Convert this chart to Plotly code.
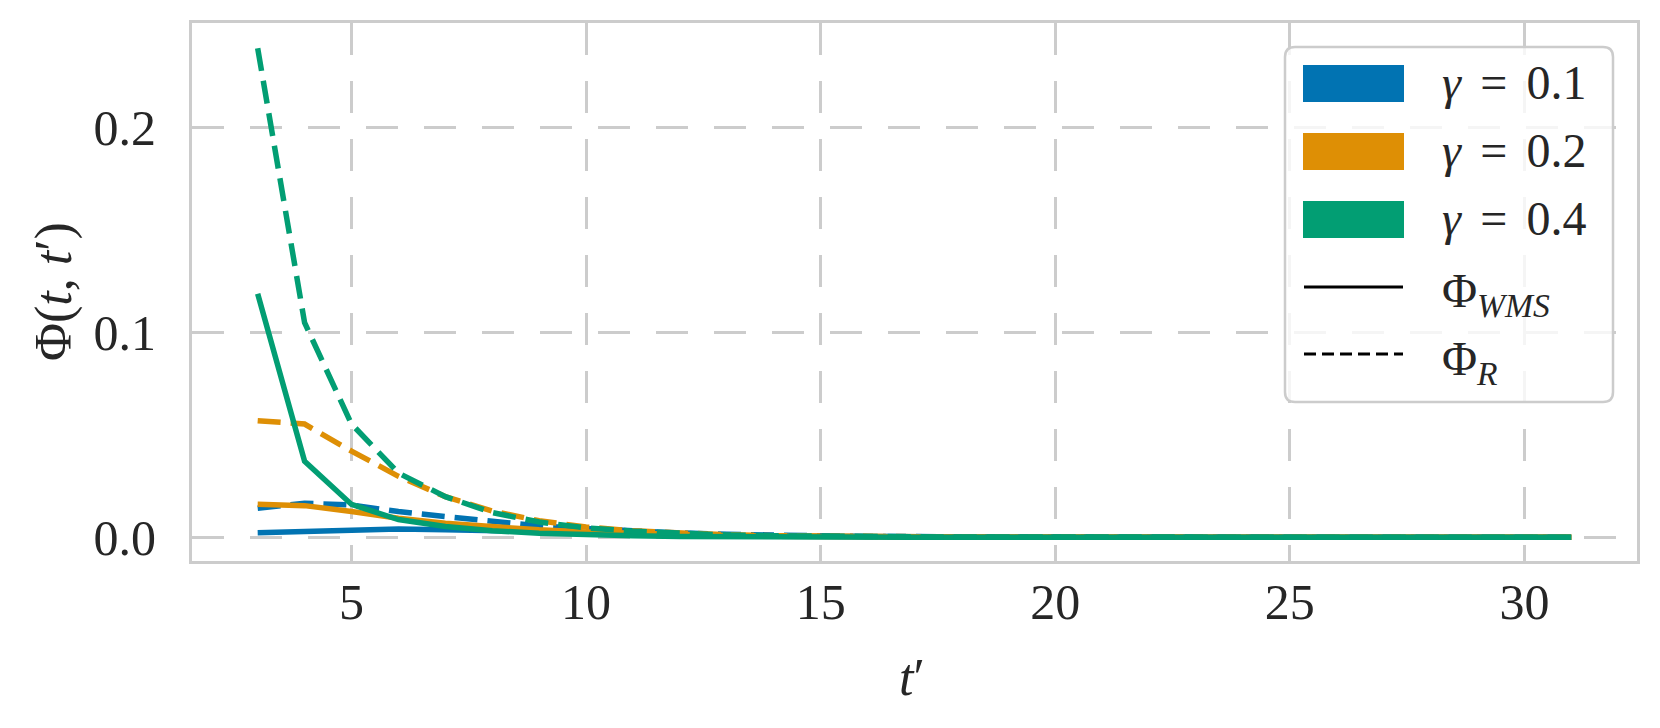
import plotly.graph_objects as go

# t' values on the x axis
t_prime = list(range(3, 32))

# Phi_WMS and Phi_R for each gamma
wms_01 = [0.0022, 0.0030, 0.0038, 0.0040, 0.0037, 0.0031, 0.0025, 0.0019, 0.0014, 0.0010,
          0.0007, 0.0005, 0.0003, 0.0002, 0.0001, 0.0001, 0.0001, 0.0, 0.0, 0.0,
          0.0, 0.0, 0.0, 0.0, 0.0, 0.0, 0.0, 0.0, 0.0]
r_01 = [0.0141, 0.0166, 0.0157, 0.0125, 0.0101, 0.0076, 0.0055, 0.0042, 0.0030, 0.0021,
        0.0014, 0.0009, 0.0006, 0.0004, 0.0003, 0.0002, 0.0001, 0.0001, 0.0, 0.0,
        0.0, 0.0, 0.0, 0.0, 0.0, 0.0, 0.0, 0.0, 0.0]
wms_02 = [0.0161, 0.0154, 0.0125, 0.0093, 0.0068, 0.0049, 0.0036, 0.0026, 0.0018, 0.0012,
          0.0008, 0.0005, 0.0003, 0.0002, 0.0001, 0.0001, 0.0, 0.0, 0.0, 0.0,
          0.0, 0.0, 0.0, 0.0, 0.0, 0.0, 0.0, 0.0, 0.0]
r_02 = [0.0568, 0.0552, 0.0420, 0.0297, 0.0198, 0.0128, 0.0080, 0.0050, 0.0031, 0.0019,
        0.0012, 0.0007, 0.0004, 0.0003, 0.0002, 0.0001, 0.0001, 0.0, 0.0, 0.0,
        0.0, 0.0, 0.0, 0.0, 0.0, 0.0, 0.0, 0.0, 0.0]
wms_04 = [0.1187, 0.0371, 0.0160, 0.0086, 0.0052, 0.0032, 0.0019, 0.0011, 0.0007, 0.0004,
          0.0002, 0.0001, 0.0001, 0.0, 0.0, 0.0, 0.0, 0.0, 0.0, 0.0,
          0.0, 0.0, 0.0, 0.0, 0.0, 0.0, 0.0, 0.0, 0.0]
r_04 = [0.2385, 0.1046, 0.0552, 0.0313, 0.0198, 0.0120, 0.0074, 0.0046, 0.0029, 0.0018,
        0.0011, 0.0007, 0.0004, 0.0003, 0.0002, 0.0001, 0.0001, 0.0, 0.0, 0.0,
        0.0, 0.0, 0.0, 0.0, 0.0, 0.0, 0.0, 0.0, 0.0]

gammas = ["0.1", "0.2", "0.4"]
colors = ["#0173b2", "#de8f05", "#029e73"]
series = [(wms_01, r_01), (wms_02, r_02), (wms_04, r_04)]

# page is 1660x728 but the body has an 8px margin, so the figure is a bit smaller
OFF = 8
W, H = 1660 - OFF, 728 - OFF
ML, MR, MT, MB = 192 - OFF, 23, 23 - OFF, 167
PW, PH = W - ML - MR, H - MT - MB
FONT = "Liberation Serif"
TXT = "#262626"


def px(x):
    # page pixel -> paper x
    return (x - OFF - ML) / PW


def py(y):
    # page pixel -> paper y
    return (H - MB - (y - OFF)) / PH


fig = go.Figure()
for (wms, r), c in zip(series, colors):
    fig.add_trace(go.Scatter(x=t_prime, y=wms, mode="lines", showlegend=False,
                             line=dict(color=c, width=5.5)))
    fig.add_trace(go.Scatter(x=t_prime, y=r, mode="lines", showlegend=False,
                             line=dict(color=c, width=5.5, dash="23px,10px")))

# hand-made legend, matplotlib style
shapes = []
annotations = []
x0, x1, y0, y1 = px(1285), px(1613), py(47), py(402)
rx, ry = 10 / PW, 10 / PH
path = (f"M{x0+rx},{y0} L{x1-rx},{y0} Q{x1},{y0} {x1},{y0-ry} L{x1},{y1+ry} Q{x1},{y1} {x1-rx},{y1} "
        f"L{x0+rx},{y1} Q{x0},{y1} {x0},{y1+ry} L{x0},{y0-ry} Q{x0},{y0} {x0+rx},{y0} Z")
shapes.append(dict(type="path", xref="paper", yref="paper", path=path, layer="above",
                   fillcolor="rgba(255,255,255,0.8)", line=dict(color="#cccccc", width=2.5)))
rows = [(65, 102), (133, 170), (201, 238)]
sp = "\u2009\u2009"
for (top, bot), c, g in zip(rows, colors, gammas):
    shapes.append(dict(type="rect", xref="paper", yref="paper", layer="above",
                       x0=px(1303), x1=px(1404), y0=py(top), y1=py(bot),
                       fillcolor=c, line=dict(width=0)))
    annotations.append(dict(xref="paper", yref="paper", x=px(1440), y=py((top + bot) / 2 - 1),
                            xanchor="left", yanchor="middle", showarrow=False,
                            text=f"<i>γ</i>{sp}={sp}{g}",
                            font=dict(size=48, color=TXT, family=FONT)))
shapes.append(dict(type="line", xref="paper", yref="paper", layer="above",
                   x0=px(1304), x1=px(1403), y0=py(287), y1=py(287),
                   line=dict(color="black", width=3)))
shapes.append(dict(type="line", xref="paper", yref="paper", layer="above",
                   x0=px(1304), x1=px(1403), y0=py(354), y1=py(354),
                   line=dict(color="black", width=3, dash="12px,6px")))
annotations.append(dict(xref="paper", yref="paper", x=px(1440), y=py(294), xanchor="left",
                        yanchor="middle", showarrow=False, text="Φ<sub><i>WMS</i></sub>",
                        font=dict(size=48, color=TXT, family=FONT)))
annotations.append(dict(xref="paper", yref="paper", x=px(1440), y=py(362), xanchor="left",
                        yanchor="middle", showarrow=False, text="Φ<sub><i>R</i></sub>",
                        font=dict(size=48, color=TXT, family=FONT)))

# axis titles
annotations.append(dict(xref="paper", yref="paper", x=px(912), y=py(677), xanchor="center",
                        yanchor="middle", showarrow=False, text="<i>t</i>′",
                        font=dict(size=52, color=TXT, family=FONT)))
annotations.append(dict(xref="paper", yref="paper", x=px(54), y=py(292), xanchor="center",
                        yanchor="middle", showarrow=False, textangle=-90,
                        text="Φ(<i>t</i>, <i>t</i>′)",
                        font=dict(size=52, color=TXT, family=FONT)))

axis_style = dict(showgrid=True, gridcolor="#cccccc", gridwidth=2.5, griddash="32px,26px",
                  showline=True, linecolor="#cccccc", linewidth=3, mirror=True,
                  zeroline=False, ticks="", automargin=False,
                  tickfont=dict(size=50, color=TXT, family=FONT))

fig.update_layout(
    width=W, height=H,
    margin=dict(l=ML, r=MR, t=MT, b=MB),
    plot_bgcolor="white", paper_bgcolor="white",
    showlegend=False,
    shapes=shapes, annotations=annotations,
)
fig.update_xaxes(range=[1.6, 32.4], tickvals=[5, 10, 15, 20, 25, 30],
                 ticklabelstandoff=-5, **axis_style)
fig.update_yaxes(range=[-0.0116, 0.2508], tickvals=[0, 0.1, 0.2],
                 ticktext=["0.0", "0.1", "0.2"], ticklabelstandoff=23, **axis_style)

fig.write_html("out.html")
